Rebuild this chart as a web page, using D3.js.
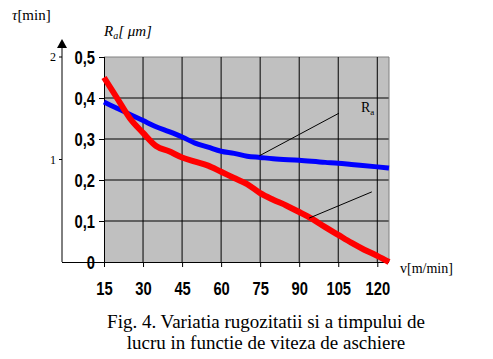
<!DOCTYPE html>
<html>
<head>
<meta charset="utf-8">
<script src="https://cdn.jsdelivr.net/npm/d3@7/dist/d3.min.js"></script>
<style>
  html, body { margin: 0; padding: 0; background: #fff; }
  svg { display: block; }
  .serif { font-family: "Liberation Serif", "Times New Roman", serif; }
  .bold { font-family: "Liberation Sans Narrow", "Arial Narrow", "Liberation Sans", Arial, sans-serif; font-weight: bold; }
</style>
</head>
<body>
<svg id="chart" width="493" height="359"></svg>
<script>
// viteza de aschiere v [m/min]
const xTicks = [15, 30, 45, 60, 75, 90, 105, 120];
const yTicks = [0, 0.1, 0.2, 0.3, 0.4, 0.5];
const yTickLabels = ['0', '0,1', '0,2', '0,3', '0,4', '0,5'];
const tauTicks = [1, 2];

// rugozitatea Ra [um] (blue)
const raV = [15, 20, 25, 30, 35, 40, 45, 50, 55, 60, 65, 70, 75, 80, 90, 100, 105, 110, 120, 124.5];
const raY = [0.39, 0.375, 0.36, 0.345, 0.33, 0.318, 0.305, 0.29, 0.28, 0.27, 0.265, 0.258, 0.255, 0.252, 0.248, 0.243, 0.241, 0.238, 0.232, 0.229];

// timpul de lucru tau (red, on the Ra scale)
const tV = [15, 20, 25, 30, 35, 40, 45, 50, 55, 60, 65, 70, 75, 80, 85, 90, 95, 100, 105, 110, 115, 120, 124.5];
const tY = [0.45, 0.40, 0.35, 0.315, 0.283, 0.27, 0.255, 0.245, 0.235, 0.22, 0.205, 0.19, 0.168, 0.152, 0.138, 0.122, 0.105, 0.085, 0.066, 0.047, 0.03, 0.015, 0];

const svg = d3.select('#chart');
const L = 104, R = 389, T = 57, B = 262;

const x = d3.scaleLinear().domain([15, 124.5]).range([L, R]);
const y = d3.scaleLinear().domain([0, 0.5]).range([B, T]);
const tau = d3.scaleLinear().domain([0, 2]).range([B, T]);

// plot background
svg.append('rect').attr('x', L).attr('y', T).attr('width', R - L).attr('height', B - T)
  .attr('fill', '#c0c0c0');

// grid
yTicks.slice(1).forEach(v => {
  svg.append('line').attr('x1', L).attr('x2', R).attr('y1', y(v)).attr('y2', y(v))
    .attr('stroke', v === 0.5 ? '#808080' : '#000').attr('stroke-width', 1);
});
xTicks.slice(1).forEach(v => {
  svg.append('line').attr('x1', x(v)).attr('x2', x(v)).attr('y1', T).attr('y2', B)
    .attr('stroke', '#000').attr('stroke-width', 1);
});
// right border
svg.append('line').attr('x1', R).attr('x2', R).attr('y1', T).attr('y2', B)
  .attr('stroke', '#808080');

// axes
const xAxis = d3.axisBottom(x).tickValues(xTicks).tickSize(5).tickFormat(d => d);
const gx = svg.append('g').attr('transform', `translate(0,${B})`).call(xAxis)
  .attr('font-family', null).attr('font-size', null);
gx.select('.domain').attr('stroke', '#000').attr('d', `M${L},0.5H${R}`);
gx.selectAll('text').attr('class', 'bold').attr('font-size', 18)
  .attr('fill', '#000').attr('dy', '0').attr('y', 0)
  .attr('transform', 'translate(0,33) scale(0.82,1)');

const yAxis = d3.axisLeft(y).tickValues(yTicks).tickSize(5).tickFormat((d, i) => yTickLabels[i]);
const gy = svg.append('g').attr('transform', `translate(${L},0)`).call(yAxis)
  .attr('font-family', null).attr('font-size', null);
gy.select('.domain').attr('stroke', '#000').attr('d', `M0.5,${T}V${B}`);
gy.selectAll('text').attr('class', 'bold').attr('font-size', 18)
  .attr('fill', '#000').attr('x', 0).attr('dy', '0.35em')
  .attr('transform', 'translate(-9,0) scale(0.82,1)');

// tau axis
const TX = 62;
svg.append('line').attr('x1', TX).attr('x2', TX).attr('y1', 46).attr('y2', B).attr('stroke', '#000');
svg.append('line').attr('x1', TX).attr('x2', L).attr('y1', B + 0.5).attr('y2', B + 0.5).attr('stroke', '#000');
svg.append('path').attr('d', `M${TX},39L${TX - 5},48L${TX + 5},48Z`).attr('fill', '#000');
tauTicks.forEach(v => {
  svg.append('line').attr('x1', TX - 3).attr('x2', TX).attr('y1', tau(v)).attr('y2', tau(v)).attr('stroke', '#000');
  svg.append('text').attr('class', 'serif').attr('x', TX - 6).attr('y', tau(v) + 4).attr('text-anchor', 'end')
    .attr('font-size', 12).text(v);
});

// series
const line = d3.line().x(d => x(d[0])).y(d => y(d[1])).curve(d3.curveMonotoneX);
svg.append('path').datum(raV.map((v, i) => [v, raY[i]])).attr('d', line)
  .attr('fill', 'none').attr('stroke', '#0000ff').attr('stroke-width', 5);
svg.append('path').datum(tV.map((v, i) => [v, tY[i]])).attr('d', line)
  .attr('fill', 'none').attr('stroke', '#ff0000').attr('stroke-width', 6);

// leader lines
svg.append('line').attr('x1', x(74.7)).attr('y1', y(0.259)).attr('x2', x(105.3)).attr('y2', y(0.363))
  .attr('stroke', '#000').attr('stroke-width', 1);
svg.append('line').attr('x1', x(93.8)).attr('y1', y(0.107)).attr('x2', x(117.9)).attr('y2', y(0.171))
  .attr('stroke', '#000').attr('stroke-width', 1);

// Ra label inside plot
const ra = svg.append('text').attr('class', 'serif').attr('x', 361).attr('y', 112).attr('font-size', 14);
ra.append('tspan').text('R');
ra.append('tspan').attr('font-size', 9).attr('dy', 3).text('a');

// axis titles
const tt = svg.append('text').attr('class', 'serif').attr('x', 12).attr('y', 20).attr('font-size', 15);
tt.append('tspan').attr('font-style', 'italic').text('τ');
tt.append('tspan').text('[min]');

const rt = svg.append('text').attr('class', 'serif').attr('x', 104).attr('y', 36).attr('font-size', 15)
  .attr('font-style', 'italic');
rt.append('tspan').text('R');
rt.append('tspan').attr('font-size', 10).attr('dy', 3).text('a');
rt.append('tspan').attr('dy', -3).text('[ μm]');

svg.append('text').attr('class', 'serif').attr('x', 400).attr('y', 273).attr('font-size', 14)
  .text('v[m/min]');

// caption
const cap = svg.append('text').attr('class', 'serif').attr('text-anchor', 'middle').attr('font-size', 19);
cap.append('tspan').attr('x', 266).attr('y', 328).text('Fig. 4. Variatia rugozitatii si a timpului de');
cap.append('tspan').attr('x', 266).attr('y', 349).text('lucru in functie de viteza de aschiere');
</script>
</body>
</html>
